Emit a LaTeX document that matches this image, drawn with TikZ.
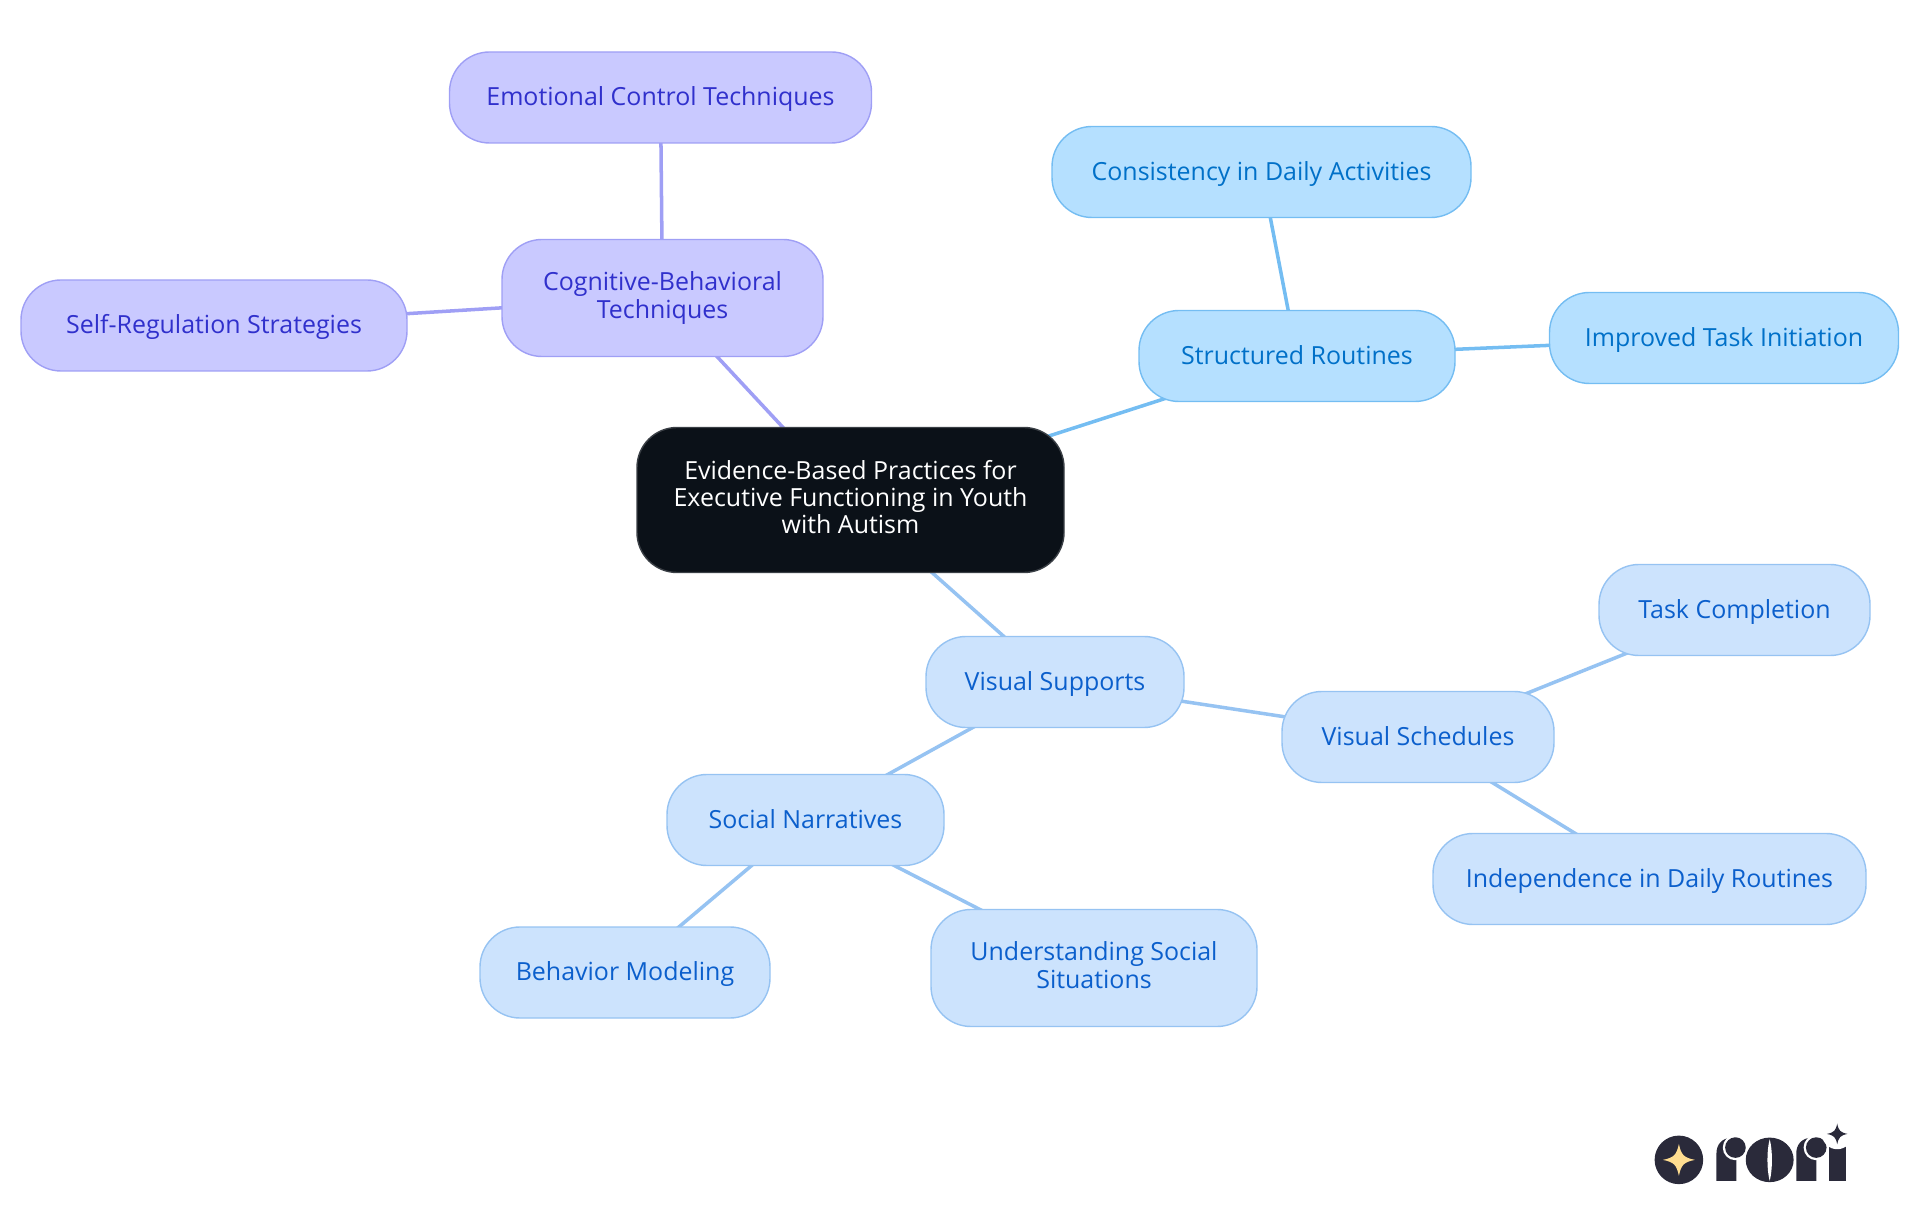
\documentclass[tikz,border=0pt]{standalone}
\usepackage{fontspec}
\setmainfont{Open Sans}
\usetikzlibrary{backgrounds}
\definecolor{rootfill}{HTML}{0B1118}
\definecolor{rootline}{HTML}{3A3F45}
\definecolor{violetfill}{HTML}{C9C9FF}
\definecolor{violetline}{HTML}{9F9FF5}
\definecolor{violettext}{HTML}{3030CC}
\definecolor{skyfill}{HTML}{B5E0FF}
\definecolor{skyline}{HTML}{74BDF2}
\definecolor{skytext}{HTML}{0070C8}
\definecolor{bluefill}{HTML}{CCE3FD}
\definecolor{blueline}{HTML}{96C3F2}
\definecolor{bluetext}{HTML}{0B5FCC}
\definecolor{logoink}{HTML}{2A2A3A}
\definecolor{logostar}{HTML}{FFDD90}
\newcommand{\mapstrut}{\rule{0pt}{6.4pt}}
\newcommand{\mapendstrut}{\rule[-1.7pt]{0pt}{7.1pt}}
\tikzset{
  mapnode/.style={draw,line width=0.4pt,rounded corners=0.4cm,align=center,inner sep=0pt,
    minimum height=0.91cm,font=\fontsize{7.1}{7.7}\selectfont,
    execute at begin node=\mapstrut,execute at end node=\mapendstrut},
  rootnode/.style={mapnode,fill=rootfill,draw=rootline,text=white},
  violetnode/.style={mapnode,fill=violetfill,draw=violetline,text=violettext},
  skynode/.style={mapnode,fill=skyfill,draw=skyline,text=skytext},
  bluenode/.style={mapnode,fill=bluefill,draw=blueline,text=bluetext},
  maplink/.style={line width=1pt},
  sparkle/.pic={\path[pic actions] (-1,0) .. controls (-.3,-.15) and (-.15,-.3) .. (0,-1)
    .. controls (.15,-.3) and (.3,-.15) .. (1,0)
    .. controls (.3,.15) and (.15,.3) .. (0,1)
    .. controls (-.15,.3) and (-.3,.15) .. (-1,0) -- cycle;}
}
\begin{document}
\begin{tikzpicture}
  \useasboundingbox (0,0) rectangle (19.2,12.15);
  \node[rootnode,minimum width=4.27cm,minimum height=1.45cm] (root) at (8.505,7.15) {Evidence-Based Practices for\\Executive Functioning in Youth\\with Autism};
  \node[violetnode,minimum width=3.21cm,minimum height=1.17cm] (cognitive) at (6.625,9.17) {Cognitive-Behavioral\\Techniques};
  \node[violetnode,minimum width=4.22cm] (emotional) at (6.605,11.175) {Emotional Control Techniques};
  \node[violetnode,minimum width=3.86cm] (selfreg) at (2.14,8.895) {Self-Regulation Strategies};
  \node[skynode,minimum width=3.16cm] (routines) at (12.97,8.59) {Structured Routines};
  \node[skynode,minimum width=4.19cm] (consistency) at (12.615,10.43) {Consistency in Daily Activities};
  \node[skynode,minimum width=3.49cm] (initiation) at (17.24,8.77) {Improved Task Initiation};
  \node[bluenode,minimum width=2.58cm] (supports) at (10.55,5.33) {Visual Supports};
  \node[bluenode,minimum width=2.72cm] (schedules) at (14.18,4.78) {Visual Schedules};
  \node[bluenode,minimum width=2.71cm] (completion) at (17.345,6.05) {Task Completion};
  \node[bluenode,minimum width=4.33cm] (independence) at (16.495,3.36) {Independence in Daily Routines};
  \node[bluenode,minimum width=2.77cm] (narratives) at (8.055,3.95) {Social Narratives};
  \node[bluenode,minimum width=2.9cm] (modeling) at (6.25,2.425) {Behavior Modeling};
  \node[bluenode,minimum width=3.26cm,minimum height=1.17cm] (situations) at (10.94,2.47) {Understanding Social\\Situations};
  \begin{scope}[on background layer]
    \draw[maplink,violetline] (root.center) -- (cognitive.center);
    \draw[maplink,violetline] (cognitive.center) -- (emotional.center);
    \draw[maplink,violetline] (cognitive.center) -- (selfreg.center);
    \draw[maplink,skyline] (root.center) -- (routines.center);
    \draw[maplink,skyline] (routines.center) -- (consistency.center);
    \draw[maplink,skyline] (routines.center) -- (initiation.center);
    \draw[maplink,blueline] (root.center) -- (supports.center);
    \draw[maplink,blueline] (supports.center) -- (schedules.center);
    \draw[maplink,blueline] (supports.center) -- (narratives.center);
    \draw[maplink,blueline] (schedules.center) -- (completion.center);
    \draw[maplink,blueline] (schedules.center) -- (independence.center);
    \draw[maplink,blueline] (narratives.center) -- (modeling.center);
    \draw[maplink,blueline] (narratives.center) -- (situations.center);
  \end{scope}
  % logo
  \begin{scope}[shift={(16.2,1.15)},x=0.003333cm,y=-0.003333cm]
    \fill[logoink] (177,180) circle[radius=73];
    \pic[fill=logostar,scale=48] at (177,180) {sparkle};
    \fill[logoink] (290,243) -- (290,160) .. controls (290,135) and (305,115) .. (335,113) -- (350,113) -- (350,243) -- cycle;
    \fill[white] (347,143) circle[radius=38];
    \fill[logoink] (347,143) circle[radius=31];
    \fill[logoink] (450,180) ellipse[x radius=72,y radius=67];
    \fill[white] (450,118) .. controls (441,150) and (441,210) .. (450,243) .. controls (459,210) and (459,150) .. (450,118) -- cycle;
    \fill[logoink] (530,243) -- (530,160) .. controls (530,135) and (545,115) .. (575,113) -- (590,113) -- (590,243) -- cycle;
    \fill[white] (590,143) circle[radius=38];
    \fill[logoink] (590,143) circle[radius=31];
    \fill[logoink] (627,243) -- (627,138) -- (680,138) -- (680,243) -- cycle;
    \fill[white] (653,102) circle[radius=46];
    \pic[fill=logoink,scale=31] at (653,102) {sparkle};
  \end{scope}
\end{tikzpicture}
\end{document}
